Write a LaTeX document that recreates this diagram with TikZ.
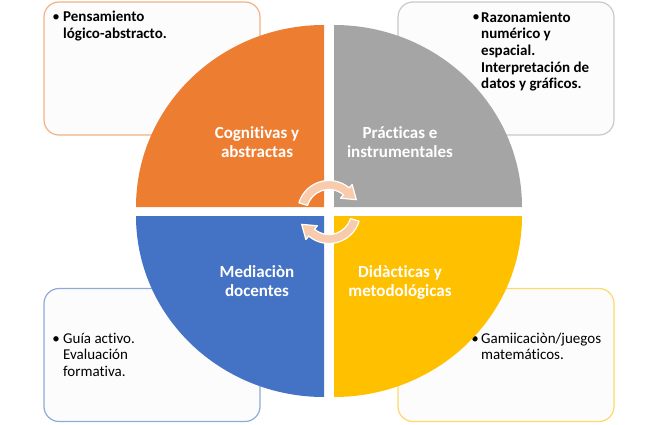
\documentclass[tikz,border=0pt]{standalone}
\usepackage{fontspec}
\setmainfont{Carlito}[Ligatures=NoCommon]
\usetikzlibrary{calc}
\definecolor{qorange}{HTML}{ED7D31}
\definecolor{qgray}{HTML}{A5A5A5}
\definecolor{qblue}{HTML}{4472C4}
\definecolor{qyellow}{HTML}{FFC000}
\definecolor{borange}{HTML}{F4B183}
\definecolor{bgray}{HTML}{C9C9C9}
\definecolor{bblue}{HTML}{8EAADB}
\definecolor{byellow}{HTML}{FFD966}
\definecolor{arrowpink}{HTML}{F8CBAD}
\definecolor{boxfill}{HTML}{FCFCFC}
\begin{document}
\begin{tikzpicture}[x=1pt,y=1pt,
  infobox/.style={draw, fill=boxfill, line width=1.2pt, rounded corners=15pt,
    minimum width=216pt, minimum height=133pt, inner sep=0pt},
  boldtext/.style={anchor=base west, inner sep=0pt, align=left,
    font=\fontsize{15}{16.7}\selectfont\bfseries},
  plaintext/.style={anchor=base west, inner sep=0pt, align=left,
    font=\fontsize{15}{16.5}\selectfont},
  bulletmark/.style={anchor=base, inner sep=0pt, font=\fontsize{15}{16.5}\selectfont},
  quadlabel/.style={anchor=base, inner sep=0pt, align=center, text=white,
    font=\fontsize{17}{19}\selectfont\bfseries},
  cyclearrow/.style={fill=arrowpink, draw=white, line width=1.2pt, line join=round}
]
\useasboundingbox (0,0) rectangle (658,424);

% information boxes
\node[infobox, draw=borange] (tlbox) at (152,355.5) {};
\node[infobox, draw=bgray]   (trbox) at (506,355.5) {};
\node[infobox, draw=bblue]   (blbox) at (152,69) {};
\node[infobox, draw=byellow] (brbox) at (506,69) {};

% box texts (anchor is the baseline of the last line)
\node[bulletmark] (tlbul) at (56,402) {\textbullet};
\node[boldtext] (tltext) at (63,385.3) {Pensamiento\\lógico-abstracto.};
\node[bulletmark] (trbul) at (476,402) {\textbullet};
\node[boldtext] (trtext) at (481,335.2) {Razonamiento\\numérico y\\espacial.\\Interpretación de\\datos y gráficos.};
\node[bulletmark] (blbul) at (56,81) {\textbullet};
\node[plaintext] (bltext) at (63,48) {Guía activo.\\Evaluación\\formativa.};
\node[bulletmark] (brbul) at (475,81) {\textbullet};
\node[plaintext] (brtext) at (481,64.5) {Gamiicaciòn/juegos\\matemáticos.};

% quadrants
\fill[qorange] (324,217) -- (136,217) arc[start angle=180, end angle=90, x radius=188, y radius=182] -- cycle;
\fill[qgray] (334,217) -- (334,399) arc[start angle=90, end angle=0, x radius=188, y radius=182] -- cycle;
\fill[qblue] (324,208) -- (136,208) arc[start angle=180, end angle=270, x radius=188, y radius=181] -- cycle;
\fill[qyellow] (334,208) -- (522,208) arc[start angle=0, end angle=-90, x radius=188, y radius=181] -- cycle;

% quadrant labels
\node[quadlabel] (qcog) at (257,267) {Cognitivas y\\abstractas};
\node[quadlabel] (qpra) at (400,267) {Prácticas e\\instrumentales};
\node[quadlabel] (qmed) at (257,128) {Mediaciòn\\docentes};
\node[quadlabel] (qdid) at (400,128) {Didàcticas y\\metodológicas};

% central cycle arrows
\coordinate (C) at (329,212);
\filldraw[cyclearrow]
  ($(C)+(163:31.5)$) arc[start angle=163, end angle=50, radius=31.5]
  -- ($(C)+(50:36)$) -- ($(C)+(50:27)+(-40:13)$) -- ($(C)+(50:18)$) -- ($(C)+(50:22.5)$)
  arc[start angle=50, end angle=163, radius=22.5] -- cycle;
\filldraw[cyclearrow]
  ($(C)+(343:31.5)$) arc[start angle=343, end angle=230, radius=31.5]
  -- ($(C)+(230:36)$) -- ($(C)+(230:27)+(140:13)$) -- ($(C)+(230:18)$) -- ($(C)+(230:22.5)$)
  arc[start angle=230, end angle=343, radius=22.5] -- cycle;
\end{tikzpicture}
\end{document}
